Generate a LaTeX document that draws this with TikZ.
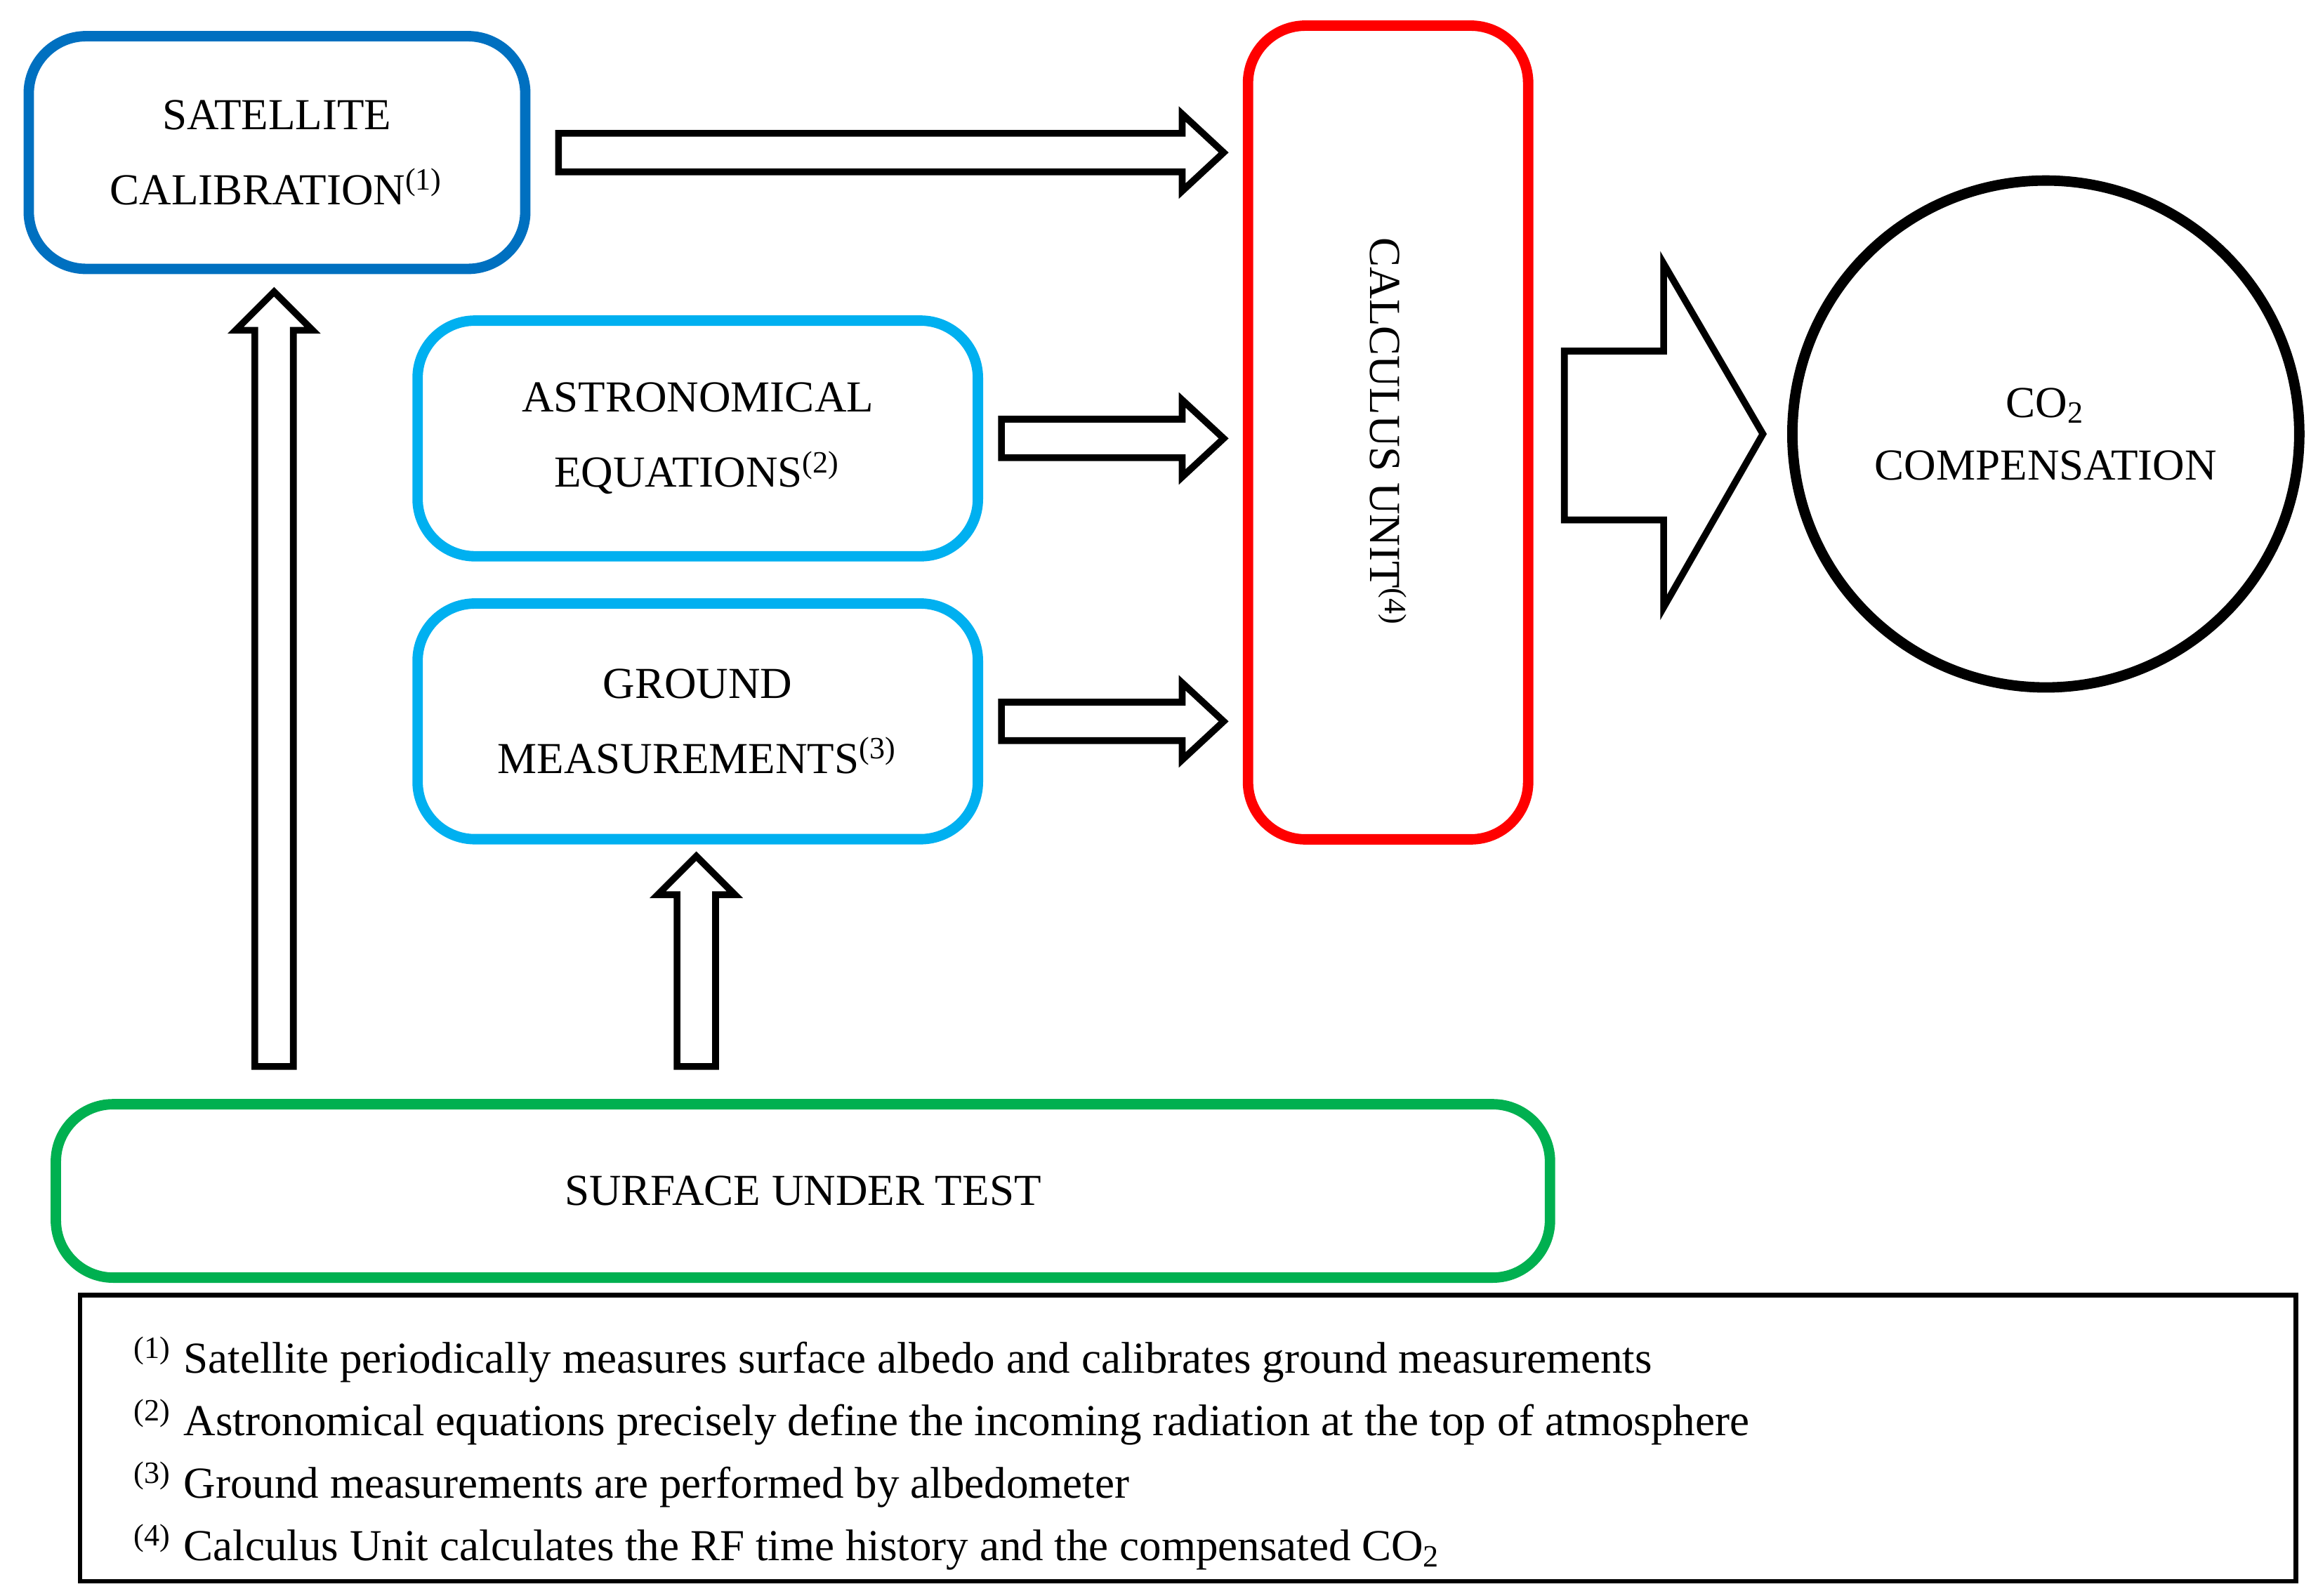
\documentclass[tikz,border=0pt]{standalone}
\usepackage{fontspec}
\setmainfont{Liberation Serif}
\usetikzlibrary{positioning,calc,shapes.arrows}
\definecolor{satblue}{RGB}{0,112,192}
\definecolor{skyblue}{RGB}{0,176,240}
\definecolor{surfgreen}{RGB}{0,176,80}
\tikzset{
  box/.style = {draw, rounded corners=11pt, line width=2pt, align=center, font=\fontsize{8.5}{14.5}\selectfont},
  fat/.style = {draw, line width=1.3pt, fill=white},
}
\begin{document}
\begin{tikzpicture}[x=0.01cm,y=-0.01cm]
\useasboundingbox (0,0) rectangle (1560,1077);
\node[box, draw=satblue, minimum width=3.35cm, minimum height=1.57cm] (sat) at (187,103) {SATELLITE\\CALIBRATION\textsuperscript{(1)}};
\node[box, draw=skyblue, minimum width=3.78cm, minimum height=1.59cm] (astro) at (471,296) {ASTRONOMICAL\\EQUATIONS\textsuperscript{(2)}};
\node[box, draw=skyblue, minimum width=3.78cm, minimum height=1.59cm] (ground) at (471,487) {GROUND\\MEASUREMENTS\textsuperscript{(3)}};
\node[box, draw=red, minimum width=1.89cm, minimum height=5.49cm] (calc) at (937,292) {};
\node[rotate=-90, font=\fontsize{8.5}{11}\selectfont] (calct) at (937,292) {CALCULUS UNIT\textsuperscript{(4)}};
\node[draw, circle, line width=2pt, minimum size=3.42cm, align=center, font=\fontsize{8.5}{12}\selectfont] (co2) at (1381,293) {CO\textsubscript{2}\\COMPENSATION};
\node[box, draw=surfgreen, minimum width=10.08cm, minimum height=1.17cm] (surf) at (542,804) {SURFACE UNDER TEST};
\node[draw, line width=0.9pt, minimum width=14.95cm, minimum height=1.93cm] (notes) at (802,971) {};
\node[anchor=north west, align=left, font=\fontsize{8.5}{12}\selectfont] (notest) at (78,890)
  {\textsuperscript{(1)} Satellite periodically measures surface albedo and calibrates ground measurements\\
   \textsuperscript{(2)} Astronomical equations precisely define the incoming radiation at the top of atmosphere\\
   \textsuperscript{(3)} Ground measurements are performed by albedometer\\
   \textsuperscript{(4)} Calculus Unit calculates the RF time history and the compensated CO\textsubscript{2}};
% horizontal block arrows
\foreach \s/\y/\x in {sat/103/377, astro/296/676, ground/487/676}
  \draw[fat] (\x,\y-13) -- (798,\y-13) -- (798,\y-26) -- (826,\y) -- (798,\y+26) -- (798,\y+13) -- (\x,\y+13) -- cycle;
% vertical block arrows
\draw[fat] (172,720) -- (172,223) -- (159,223) -- (185,197) -- (211,223) -- (198,223) -- (198,720) -- cycle;
\draw[fat] (457,720) -- (457,604) -- (444,604) -- (470,578) -- (496,604) -- (483,604) -- (483,720) -- cycle;
% big arrow
\draw[fat] (1056,237) -- (1123,237) -- (1123,178) -- (1190,293) -- (1123,410) -- (1123,351) -- (1056,351) -- cycle;
\end{tikzpicture}
\end{document}
